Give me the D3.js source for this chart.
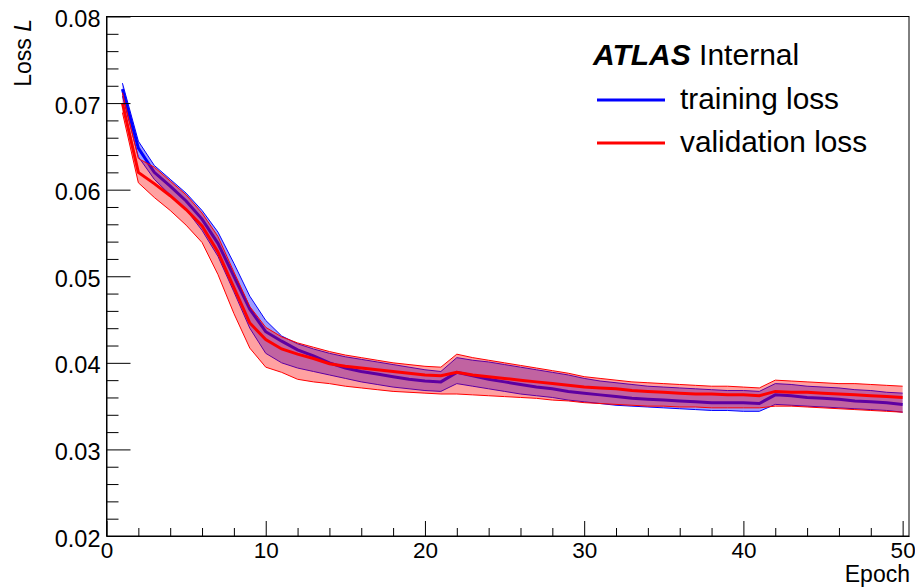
<!DOCTYPE html>
<html>
<head>
<meta charset="utf-8">
<script src="https://cdn.jsdelivr.net/npm/d3@7"></script>
<style>
body{margin:0;background:#fff;}
text{font-family:"Liberation Sans",Arial,sans-serif;fill:#000;}
</style>
</head>
<body>
<div id="plot"></div>
<script>
// epochs and loss curves (mean and +/- band)
var epochs=[1,2,3,4,5,6,7,8,9,10,11,12,13,14,15,16,17,18,19,20,21,22,23,24,25,
    26,27,28,29,30,31,32,33,34,35,36,37,38,39,40,41,42,43,44,45,46,47,48,49,50];

var trainHi=[0.0723,0.0656,0.0628,0.0612,0.0596,0.0576,0.0551,0.0515,0.0477,0.0449,
    0.0431,0.0422,0.0416,0.0411,0.0407,0.0404,0.0401,0.0398,0.0395,0.0392,
    0.0390,0.0406,0.0403,0.0401,0.0398,0.0395,0.0392,0.0389,0.0386,0.0382,
    0.0379,0.0377,0.0375,0.0373,0.0372,0.0371,0.0370,0.0369,0.0368,0.0368,
    0.0367,0.0376,0.0375,0.0373,0.0372,0.0371,0.0369,0.0368,0.0366,0.0365];
var trainLoss=[0.0716,0.0648,0.0620,0.0604,0.0587,0.0566,0.0538,0.0500,0.0462,0.0436,
    0.0425,0.0415,0.0408,0.0400,0.0394,0.0390,0.0387,0.0384,0.0381,0.0379,
    0.0378,0.0389,0.0385,0.0381,0.0378,0.0375,0.0372,0.0370,0.0367,0.0365,
    0.0363,0.0361,0.0359,0.0358,0.0357,0.0356,0.0355,0.0354,0.0354,0.0354,
    0.0353,0.0363,0.0362,0.0360,0.0359,0.0358,0.0356,0.0355,0.0354,0.0352];
var trainLo=[0.0708,0.0638,0.0612,0.0594,0.0577,0.0553,0.0523,0.0482,0.0440,0.0411,
    0.0400,0.0394,0.0390,0.0386,0.0382,0.0378,0.0375,0.0372,0.0370,0.0368,
    0.0367,0.0376,0.0373,0.0370,0.0367,0.0364,0.0362,0.0360,0.0357,0.0355,
    0.0353,0.0351,0.0350,0.0349,0.0348,0.0347,0.0346,0.0345,0.0345,0.0344,
    0.0344,0.0352,0.0351,0.0350,0.0349,0.0348,0.0347,0.0346,0.0345,0.0343];

var valHi=[0.0712,0.0636,0.0626,0.0610,0.0594,0.0573,0.0546,0.0505,0.0465,0.0441,
    0.0430,0.0423,0.0418,0.0413,0.0409,0.0406,0.0403,0.0400,0.0398,0.0396,
    0.0395,0.0410,0.0406,0.0403,0.0400,0.0397,0.0394,0.0391,0.0388,0.0384,
    0.0382,0.0380,0.0378,0.0377,0.0376,0.0375,0.0374,0.0373,0.0373,0.0372,
    0.0371,0.0380,0.0379,0.0378,0.0377,0.0376,0.0376,0.0375,0.0374,0.0373];
var valLoss=[0.0700,0.0620,0.0607,0.0593,0.0577,0.0558,0.0528,0.0487,0.0446,0.0427,
    0.0416,0.0410,0.0405,0.0399,0.0396,0.0394,0.0392,0.0390,0.0388,0.0386,
    0.0385,0.0389,0.0386,0.0384,0.0382,0.0380,0.0378,0.0376,0.0374,0.0372,
    0.0371,0.0370,0.0368,0.0367,0.0366,0.0365,0.0364,0.0364,0.0363,0.0363,
    0.0362,0.0367,0.0366,0.0366,0.0365,0.0364,0.0363,0.0362,0.0361,0.0360];
var valLo=[0.0689,0.0608,0.0591,0.0576,0.0559,0.0539,0.0502,0.0457,0.0417,0.0395,
    0.0389,0.0381,0.0378,0.0376,0.0373,0.0371,0.0369,0.0367,0.0366,0.0365,
    0.0364,0.0364,0.0363,0.0362,0.0361,0.0360,0.0359,0.0357,0.0356,0.0354,
    0.0353,0.0352,0.0351,0.0350,0.0350,0.0349,0.0349,0.0348,0.0348,0.0348,
    0.0348,0.0350,0.0350,0.0349,0.0348,0.0347,0.0346,0.0345,0.0344,0.0343];

var xTicks=[0,10,20,30,40,50];
var xMinor=[2,4,6,8,12,14,16,18,22,24,26,28,32,34,36,38,42,44,46,48];
var yTicks=[0.02,0.03,0.04,0.05,0.06,0.07,0.08];
var yMinor=[0.022,0.024,0.026,0.028,0.032,0.034,0.036,0.038,0.042,0.044,0.046,0.048,
    0.052,0.054,0.056,0.058,0.062,0.064,0.066,0.068,0.072,0.074,0.076,0.078];

var W=915, H=587;
var margin={t: 16.5, r: 6, b: 51, l: 106.5};

var svg=d3.select('#plot').append('svg')
    .attr('width',W)
    .attr('height',H);

var x=d3.scaleLinear().domain([0,50.4]).range([margin.l,W-margin.r]);
var y=d3.scaleLinear().domain([0.02,0.08]).range([H-margin.b,margin.t]);

var train=epochs.map(function(e,i){ return {e:e, m:trainLoss[i], lo:trainLo[i], hi:trainHi[i]}; });
var val=epochs.map(function(e,i){ return {e:e, m:valLoss[i], lo:valLo[i], hi:valHi[i]}; });

var band=d3.area()
    .x(function(d){ return x(d.e); })
    .y0(function(d){ return y(d.lo); })
    .y1(function(d){ return y(d.hi); });
var mid=d3.line().x(function(d){ return x(d.e); }).y(function(d){ return y(d.m); });
var loLine=d3.line().x(function(d){ return x(d.e); }).y(function(d){ return y(d.lo); });
var hiLine=d3.line().x(function(d){ return x(d.e); }).y(function(d){ return y(d.hi); });

function drawSeries(data,col,fill){
    var g=svg.append("g");
    g.append("path").attr("d",band(data)).attr("fill",fill).attr("stroke","none");
    g.append("path").attr("d",loLine(data)).attr("fill","none").attr("stroke",col).attr("stroke-width",1);
    g.append("path").attr("d",hiLine(data)).attr("fill","none").attr("stroke",col).attr("stroke-width",1);
    g.append("path").attr("d",mid(data)).attr("fill","none").attr("stroke",col).attr("stroke-width",3);
}
drawSeries(train,"#0000ff","rgba(0,0,255,0.38)");
drawSeries(val,"#ff0000","rgba(255,0,0,0.37)");

// frame
svg.append("rect")
    .attr("x",x(0)).attr("y",y(0.08))
    .attr("width",x(50.4)-x(0)).attr("height",y(0.02)-y(0.08))
    .attr("fill","none").attr("stroke","#000").attr("stroke-width",1);

// y axis, ticks pointing inside
var yAxis=d3.axisLeft(y).tickValues(yTicks).tickSizeInner(-24).tickSizeOuter(0)
    .tickPadding(6).tickFormat(d3.format(".2f"));
var gy=svg.append("g").attr("transform","translate("+x(0)+",0)").call(yAxis);
gy.selectAll("text").attr("font-size","23.5px").attr("dy","0.43em").attr("font-family",null);
svg.append("g").attr("transform","translate("+x(0)+",0)")
    .call(d3.axisLeft(y).tickValues(yMinor).tickSizeInner(-12).tickSizeOuter(0).tickFormat(""))
    .select(".domain").remove();

var xAxis=d3.axisBottom(x).tickValues(xTicks).tickSizeInner(-15).tickSizeOuter(0).tickPadding(6);
var gx=svg.append("g").attr("transform","translate(0,"+y(0.02)+")").call(xAxis);
gx.selectAll("text").attr("font-size","22.5px").attr("dy","0.71em").attr("font-family",null);
svg.append("g").attr("transform","translate(0,"+y(0.02)+")")
    .call(d3.axisBottom(x).tickValues(xMinor).tickSizeInner(-8).tickSizeOuter(0).tickFormat(""))
    .select(".domain").remove();
svg.selectAll(".domain").attr("stroke","#000");
svg.selectAll(".tick line").attr("stroke","#000");

// axis titles
svg.append("text")
    .attr("x",W-5).attr("y",582)
    .attr("text-anchor","end").attr("font-size","23px")
    .text("Epoch");

var yt=svg.append("text")
    .attr("transform","translate(31,19) rotate(-90)")
    .attr("text-anchor","end").attr("font-size","23px");
yt.append("tspan").text("Loss ");
yt.append("tspan").attr("font-style","italic").text("L");

// label + legend
var lab=svg.append("text").attr("x",593).attr("y",65).attr("font-size","30px");
lab.append("tspan").attr("font-weight","bold").attr("font-style","italic").text("ATLAS");
lab.append("tspan").text(" Internal");

var legend=[{name:"training loss",col:"#0000ff"},{name:"validation loss",col:"#ff0000"}];
var lg=svg.append("g").selectAll("g").data(legend).enter().append("g")
    .attr("transform",function(d,i){ return "translate(597,"+(100+i*43)+")"; });
lg.append("line").attr("x1",0).attr("x2",68).attr("y1",0).attr("y2",0)
    .attr("stroke",function(d){ return d.col; }).attr("stroke-width",3);
lg.append("text").attr("x",83).attr("y",9).attr("font-size","29.8px")
    .text(function(d){ return d.name; });
</script>
</body>
</html>
